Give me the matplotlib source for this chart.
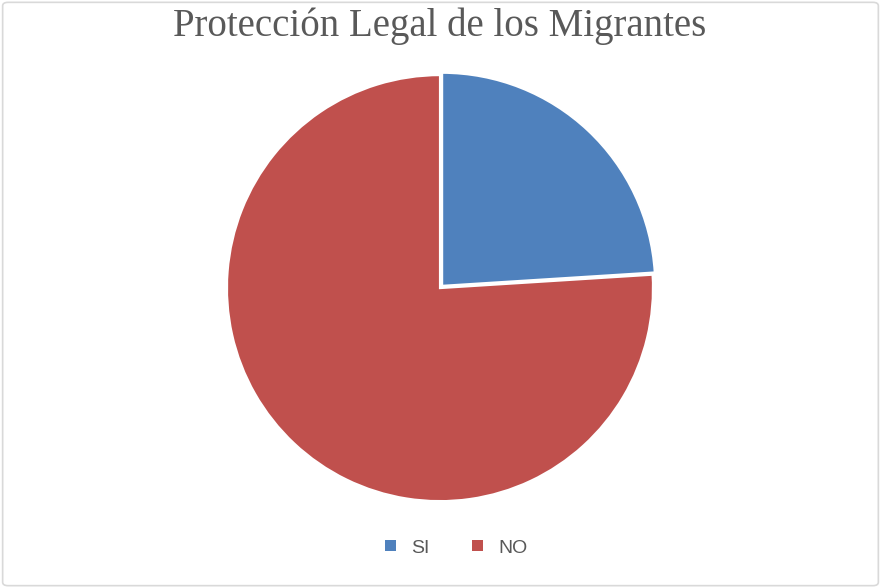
import matplotlib
matplotlib.use("Agg")
import matplotlib.pyplot as plt
from matplotlib.patches import FancyBboxPatch, Patch

labels = ["SI", "NO"]
values = [24, 76]
colors = ["#4F81BD", "#C0504D"]

fig = plt.figure(figsize=(8.81, 5.88), dpi=100)
fig.patch.set_facecolor("white")

# outer frame
frame = FancyBboxPatch((0.003, 0.004), 0.994, 0.992, boxstyle="round,pad=0,rounding_size=0.006",
                       transform=fig.transFigure, fill=False, edgecolor="#D9D9D9", linewidth=1.2)
fig.patches.append(frame)

ax = fig.add_axes([0.4994 - 0.2418, 0.510 - 0.3622, 0.4836, 0.7244])
ax.pie(values, colors=colors, startangle=90, counterclock=False,
       explode=[0.015, 0.0],
       wedgeprops=dict(edgecolor="white", linewidth=1.5))
ax.set_xlim(-1.0, 1.0)
ax.set_ylim(-1.0, 1.0)
ax.set_aspect("equal")

fig.text(0.4994, 0.955, "Protección Legal de los Migrantes", ha="center", va="center",
         fontsize=28, color="#595959", family="Liberation Serif")

handles = [Patch(facecolor=c, edgecolor="none") for c in colors]
fig.legend(handles, labels, loc="center", bbox_to_anchor=(0.518, 0.068), ncol=2,
           frameon=False, handlelength=0.55, handleheight=0.55,
           columnspacing=2.2, handletextpad=0.8, labelcolor="#595959",
           prop={"family": "Liberation Sans", "size": 14})

fig.savefig("out.png", dpi=100)
